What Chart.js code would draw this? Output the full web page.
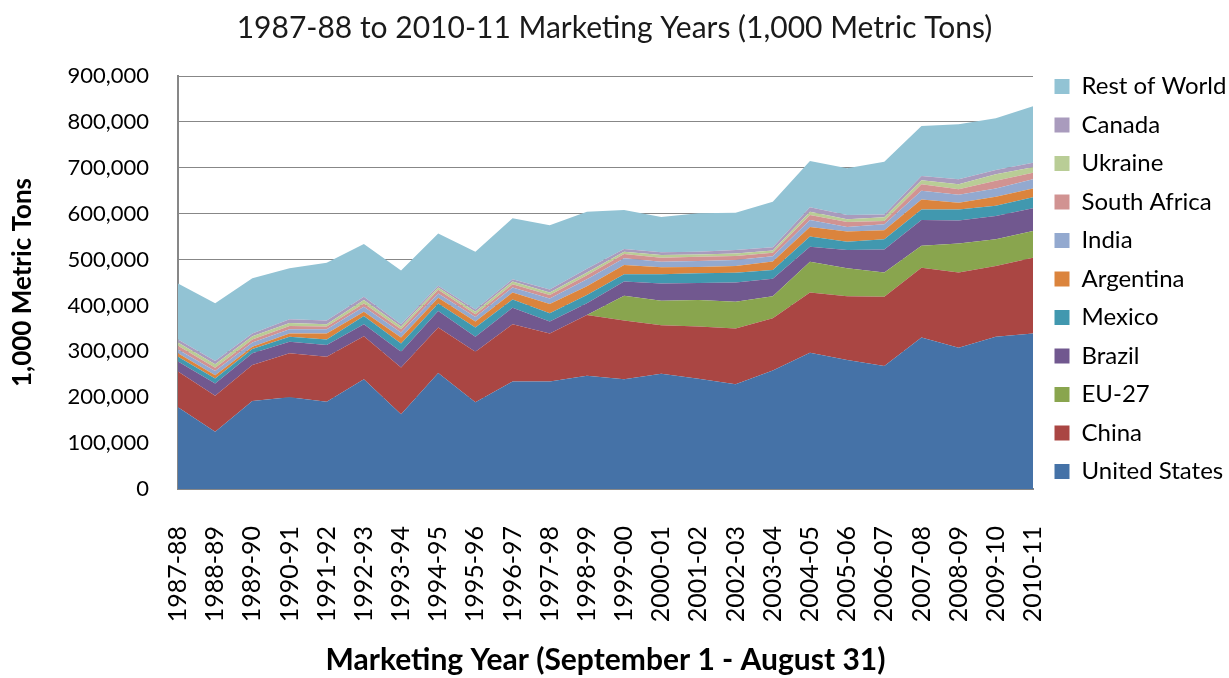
<!DOCTYPE html>
<html>
<head>
<meta charset="utf-8">
<script src="https://cdn.jsdelivr.net/npm/chart.js@4.4.1/dist/chart.umd.min.js"></script>
<style>
    html, body { margin: 0; padding: 0; background: #fff; }
</style>
</head>
<body>
<canvas id="cornChart" width="1229" height="678"></canvas>
<script>
// 1,000 metric tons
const marketingYears = ['1987-88', '1988-89', '1989-90', '1990-91', '1991-92', '1992-93', '1993-94', '1994-95',
    '1995-96', '1996-97', '1997-98', '1998-99', '1999-00', '2000-01', '2001-02', '2002-03', '2003-04', '2004-05',
    '2005-06', '2006-07', '2007-08', '2008-09', '2009-10', '2010-11'];

const unitedStates = [178000, 125000, 192000, 200000, 190000, 239000, 163000, 253000, 189000, 234000, 234000, 247000,
    239000, 251000, 240000, 228000, 258000, 297000, 281000, 268000, 330000, 308000, 332000, 339000];
const china = [78000, 78000, 78000, 96000, 98000, 94000, 102000, 99000, 110000, 125000, 105000, 132000,
    128000, 106000, 114000, 122000, 114000, 131000, 139000, 151000, 152000, 164000, 154000, 165000];
const eu27 = [0, 0, 0, 0, 0, 0, 0, 0, 0, 0, 0, 0,
    54000, 53000, 58000, 58000, 48000, 67000, 61000, 53000, 48000, 63000, 58000, 58000];
const brazil = [22000, 27000, 26000, 25000, 26000, 26000, 34000, 36000, 33000, 36000, 26000, 26000,
    31000, 38000, 37000, 42000, 38000, 33000, 40000, 50000, 56000, 50000, 51000, 50000];
const mexico = [10000, 11000, 9000, 11000, 12000, 18000, 18000, 16000, 20000, 18000, 18000, 18000,
    16000, 20000, 21000, 21000, 19000, 22000, 18000, 22000, 23000, 24000, 22000, 24000];
const argentina = [8000, 7000, 5000, 7000, 13000, 9000, 13000, 13000, 13000, 15000, 20000, 19000,
    20000, 15000, 14000, 15000, 19000, 21000, 22000, 20000, 22000, 15000, 20000, 19000];
const india = [8000, 9000, 9000, 9000, 9000, 11000, 11000, 9000, 10000, 11000, 12000, 15000,
    15000, 12000, 13000, 13000, 11000, 15000, 10000, 13000, 19000, 17000, 18000, 20000];
const southAfrica = [8000, 7000, 7000, 7000, 6000, 7000, 7000, 8000, 6000, 7000, 8000, 9000,
    9000, 9000, 9000, 9000, 8000, 11000, 11000, 7000, 14000, 12000, 17000, 14000];
const ukraine = [7000, 8000, 7000, 7000, 5000, 8000, 6000, 5000, 5000, 6000, 5000, 6000,
    5000, 6000, 5000, 5000, 5000, 7000, 6000, 8000, 9000, 11000, 14000, 12000];
const canada = [7000, 7000, 6000, 8000, 8000, 7000, 5000, 4000, 5000, 5000, 7000, 8000,
    6000, 6000, 6000, 8000, 7000, 10000, 9000, 6000, 9000, 11000, 9000, 10000];
const restOfWorld = [122000, 126000, 120000, 111000, 126000, 115000, 117000, 114000, 126000, 133000, 140000, 124000,
    85000, 77000, 84000, 81000, 99000, 101000, 102000, 115000, 109000, 120000, 113000, 123000];

const yTicks = [0, 100000, 200000, 300000, 400000, 500000, 600000, 700000, 800000, 900000];

// bottom of the stack first
const series = [
    ['United States', unitedStates, '#4572a7'],
    ['China', china, '#aa4643'],
    ['EU-27', eu27, '#89a54e'],
    ['Brazil', brazil, '#71588f'],
    ['Mexico', mexico, '#4198af'],
    ['Argentina', argentina, '#db843d'],
    ['India', india, '#93a9cf'],
    ['South Africa', southAfrica, '#d19392'],
    ['Ukraine', ukraine, '#b9cd96'],
    ['Canada', canada, '#a99bbd'],
    ['Rest of World', restOfWorld, '#92c3d4']
];

Chart.defaults.font.family = 'Lato, "Open Sans", sans-serif';
Chart.defaults.color = '#000';

const axisGray = '#878787';

// leave a small gap between the plot and the legend column
const legendNudge = {
    id: 'legendNudge',
    afterLayout(chart) {
        chart.legend.left += 7;
        chart.legend.right += 7;
    }
};

new Chart(document.getElementById('cornChart'), {
    type: 'line',
    data: {
        labels: marketingYears,
        datasets: series.map(([name, values, color], i) => ({
            label: name,
            data: values,
            backgroundColor: color,
            borderColor: color,
            borderWidth: 0,
            pointRadius: 0,
            tension: 0,
            fill: i === 0 ? 'origin' : '-1'
        }))
    },
    plugins: [legendNudge],
    options: {
        responsive: false,
        animation: false,
        layout: { padding: 0 },
        scales: {
            x: {
                offset: false,
                grid: { display: false },
                border: { display: true, color: axisGray, width: 2 },
                ticks: {
                    autoSkip: false,
                    maxRotation: 90,
                    minRotation: 90,
                    padding: 29,
                    font: { size: 25 }
                },
                title: {
                    display: true,
                    text: 'Marketing Year (September 1 - August 31)',
                    font: { size: 30, weight: 'bold' },
                    padding: { top: 0, bottom: 0 }
                },
                afterFit: (scale) => { scale.height = 189; }
            },
            y: {
                stacked: true,
                min: 0,
                max: 900000,
                afterBuildTicks: (scale) => { scale.ticks = yTicks.map(v => ({ value: v })); },
                grid: { color: axisGray, lineWidth: 1, drawTicks: false },
                border: { display: true, color: axisGray, width: 2 },
                ticks: {
                    padding: 29,
                    font: { size: 22 },
                    callback: (v) => v.toLocaleString('en-US')
                },
                title: {
                    display: true,
                    text: '1,000 Metric Tons',
                    font: { size: 26, weight: 'bold' },
                    padding: { top: 7, bottom: 0 }
                },
                afterFit: (scale) => { scale.width = 178; }
            }
        },
        plugins: {
            title: {
                display: true,
                text: '1987-88 to 2010-11 Marketing Years (1,000 Metric Tons)',
                color: '#1a1a1a',
                font: { size: 30, weight: 'normal' },
                padding: { top: 10, bottom: 30 }
            },
            legend: {
                position: 'right',
                align: 'start',
                reverse: true,
                maxWidth: 196,
                title: {
                    display: true,
                    text: ' ',
                    font: { size: 10 },
                    padding: { top: 23, bottom: 25 }
                },
                labels: {
                    boxWidth: 15,
                    boxHeight: 15,
                    padding: 14.5,
                    font: { size: 24 }
                }
            },
            tooltip: { enabled: false }
        }
    }
});
</script>
</body>
</html>
